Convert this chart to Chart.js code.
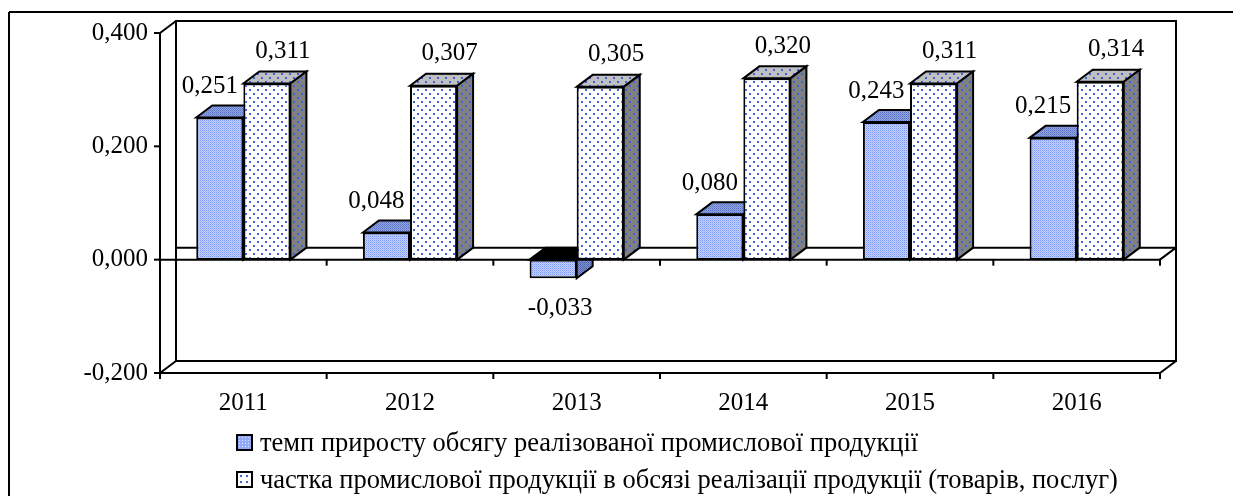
<!DOCTYPE html>
<html>
<head>
<meta charset="utf-8">
<script src="https://cdn.jsdelivr.net/npm/chart.js@4"></script>
<style>
  body { margin: 0; background: #fff; }
  #wrap { position: relative; width: 1233px; height: 496px; overflow: hidden; }
  #grafico { position: absolute; left: 0; top: 0; }
  #legenda { position: absolute; left: 236px; top: 424px; font-family: "Liberation Serif", serif; font-size: 26.5px; color: #000; }
  .item { display: flex; align-items: center; height: 37px; white-space: nowrap; }
  .caixa { width: 17px; height: 17px; box-sizing: border-box; border: 2px solid #000; margin-right: 7px; }
  .c1 { background-color: #94aaf6; background-image: radial-gradient(#dfe6ff 0.6px, transparent 0.9px); background-size: 3px 3px; }
  .c2 { background-color: #fff; background-image: radial-gradient(#3d63e0 0.9px, transparent 1.3px); background-size: 6px 6px; }
</style>
</head>
<body>
<div id="wrap">
  <canvas id="grafico" width="1233" height="496"></canvas>
  <div id="legenda"></div>
</div>
<script>
const anos = ['2011', '2012', '2013', '2014', '2015', '2016'];
const tempPrirostu = [0.251, 0.048, -0.033, 0.080, 0.243, 0.215];
const chastka = [0.311, 0.307, 0.305, 0.320, 0.311, 0.314];
const nomesSeries = [
  'темп приросту обсягу реалізованої промислової продукції',
  'частка промислової продукції в обсязі реалізації продукції (товарів, послуг)'
];
const yMin = -0.2, yMax = 0.4, yStep = 0.2;

const fonte = '"Liberation Serif", "Times New Roman", serif';
const DX = 16, DY = 12;

function formatar(v) {
  return v.toFixed(3).replace('.', ',');
}

// padroes de preenchimento
function padraoXadrez(c1, c2, c3) {
  const cv = document.createElement('canvas');
  cv.width = 2; cv.height = 2;
  const g = cv.getContext('2d');
  g.fillStyle = c1; g.fillRect(0, 0, 1, 1);
  g.fillStyle = c2; g.fillRect(1, 0, 1, 1); g.fillRect(0, 1, 1, 1);
  g.fillStyle = c3; g.fillRect(1, 1, 1, 1);
  return g.createPattern(cv, 'repeat');
}

function padraoPontos(fundo) {
  const cv = document.createElement('canvas');
  cv.width = 8; cv.height = 8;
  const g = cv.getContext('2d');
  g.fillStyle = fundo; g.fillRect(0, 0, 8, 8);
  g.fillStyle = '#3d63e0';
  g.fillRect(1, 1, 2, 2);
  g.fillRect(5, 5, 2, 2);
  return g.createPattern(cv, 'repeat');
}

const frente1 = padraoXadrez('#7c98f5', '#c3d0ff', '#a5b9fb');
const topo1 = padraoXadrez('#5670c4', '#93a6e2', '#7287d2');
const lado1 = padraoXadrez('#4a5ea8', '#7d8fcc', '#6073b8');
const frente2 = padraoPontos('#ffffff');
const topo2 = padraoPontos('#c0c0c0');
const lado2 = padraoPontos('#808080');

const facesTopo = [topo1, topo2];
const facesLado = [lado1, lado2];

function poligono(ctx, pts, fill) {
  ctx.beginPath();
  ctx.moveTo(pts[0][0], pts[0][1]);
  for (let i = 1; i < pts.length; i++) ctx.lineTo(pts[i][0], pts[i][1]);
  ctx.closePath();
  ctx.fillStyle = fill;
  ctx.fill();
  ctx.stroke();
}

function linha(ctx, x1, y1, x2, y2) {
  ctx.beginPath();
  ctx.moveTo(x1, y1);
  ctx.lineTo(x2, y2);
  ctx.stroke();
}

const plugin3d = {
  id: 'plugin3d',
  beforeDatasetsDraw(chart) {
    const ctx = chart.ctx;
    const a = chart.chartArea;
    const y = chart.scales.y;
    const y0 = y.getPixelForValue(0);
    ctx.save();
    ctx.strokeStyle = '#000';
    ctx.lineWidth = 2;

    // moldura externa
    linha(ctx, 9, 12, 1233, 12);
    linha(ctx, 9, 12, 9, 496);

    // parede do fundo
    ctx.strokeRect(a.left + DX, a.top - DY, a.right - a.left, a.bottom - a.top);
    linha(ctx, a.left, a.top, a.left + DX, a.top - DY);
    linha(ctx, a.left, a.bottom, a.left + DX, a.bottom - DY);
    linha(ctx, a.right, a.bottom, a.right + DX, a.bottom - DY);
    linha(ctx, a.left, a.bottom, a.right, a.bottom);

    // plano do zero
    linha(ctx, a.left + DX, y0 - DY, a.right + DX, y0 - DY);
    linha(ctx, a.right, y0, a.right + DX, y0 - DY);

    // faces de profundidade das barras
    for (let i = 0; i < anos.length; i++) {
      chart.data.datasets.forEach((ds, d) => {
        const bar = chart.getDatasetMeta(d).data[i];
        const esq = bar.x - bar.width / 2;
        const dir = bar.x + bar.width / 2;
        const topo = Math.min(bar.y, bar.base);
        const baixo = Math.max(bar.y, bar.base);
        const neg = ds.data[i] < 0;
        poligono(ctx, [[esq, topo], [esq + DX, topo - DY], [dir + DX, topo - DY], [dir, topo]], neg ? '#000' : facesTopo[d]);
        poligono(ctx, [[dir, topo], [dir + DX, topo - DY], [dir + DX, baixo - DY], [dir, baixo]], facesLado[d]);
      });
    }
    ctx.restore();
  },
  afterDatasetsDraw(chart) {
    const ctx = chart.ctx;
    const a = chart.chartArea;
    const y = chart.scales.y;
    const y0 = y.getPixelForValue(0);
    ctx.save();
    ctx.strokeStyle = '#000';
    ctx.lineWidth = 2;

    // eixo y
    linha(ctx, a.left, a.top, a.left, a.bottom);
    for (let v = yMin; v <= yMax + 1e-9; v += yStep) {
      const py = y.getPixelForValue(v);
      linha(ctx, a.left - 6, py, a.left, py);
    }
    // linha do zero e marcas
    linha(ctx, a.left, y0, a.right, y0);
    const larg = (a.right - a.left) / anos.length;
    for (let k = 0; k <= anos.length; k++) {
      const px = a.left + k * larg;
      linha(ctx, px, y0, px, y0 + 6);
      linha(ctx, px, a.bottom, px, a.bottom + 6);
    }

    // rotulos de dados
    ctx.fillStyle = '#000';
    ctx.font = '25px ' + fonte;
    ctx.textAlign = 'center';
    ctx.textBaseline = 'middle';
    chart.data.datasets.forEach((ds, d) => {
      chart.getDatasetMeta(d).data.forEach((bar, i) => {
        const v = ds.data[i];
        let tx, ty;
        if (v < 0) {
          tx = bar.x + 7;
          ty = bar.y + 30;
        } else if (d === 0) {
          tx = bar.x - 10;
          ty = bar.y - 31;
        } else {
          tx = bar.x + 16;
          ty = bar.y - 32;
        }
        ctx.fillText(formatar(v), tx, ty);
      });
    });
    ctx.restore();
  }
};

const chart = new Chart(document.getElementById('grafico'), {
  type: 'bar',
  data: {
    labels: anos,
    datasets: [
      { label: nomesSeries[0], data: tempPrirostu, backgroundColor: frente1 },
      { label: nomesSeries[1], data: chastka, backgroundColor: frente2 }
    ]
  },
  options: {
    responsive: false,
    animation: false,
    devicePixelRatio: 1,
    layout: { padding: { left: 0, top: 33, right: 73, bottom: 0 } },
    datasets: {
      bar: {
        borderColor: '#000',
        borderWidth: 2,
        borderSkipped: false,
        barPercentage: 1,
        categoryPercentage: 0.565
      }
    },
    plugins: {
      legend: { display: false },
      tooltip: { enabled: false }
    },
    scales: {
      x: {
        grid: { display: false, drawTicks: false },
        border: { display: false },
        ticks: { color: '#000', font: { family: fonte, size: 25 }, padding: 15 },
        afterFit(scale) { scale.height = 123; }
      },
      y: {
        min: yMin,
        max: yMax,
        grid: { display: false, drawTicks: false },
        border: { display: false },
        ticks: {
          stepSize: yStep,
          color: '#000',
          font: { family: fonte, size: 25 },
          padding: 12,
          callback: v => formatar(v)
        },
        afterFit(scale) { scale.width = 160; }
      }
    }
  },
  plugins: [plugin3d]
});

// legenda
const legenda = document.getElementById('legenda');
nomesSeries.forEach((nome, i) => {
  const div = document.createElement('div');
  div.className = 'item';
  const caixa = document.createElement('span');
  caixa.className = 'caixa c' + (i + 1);
  const txt = document.createElement('span');
  txt.textContent = nome;
  div.appendChild(caixa);
  div.appendChild(txt);
  legenda.appendChild(div);
});
</script>
</body>
</html>
